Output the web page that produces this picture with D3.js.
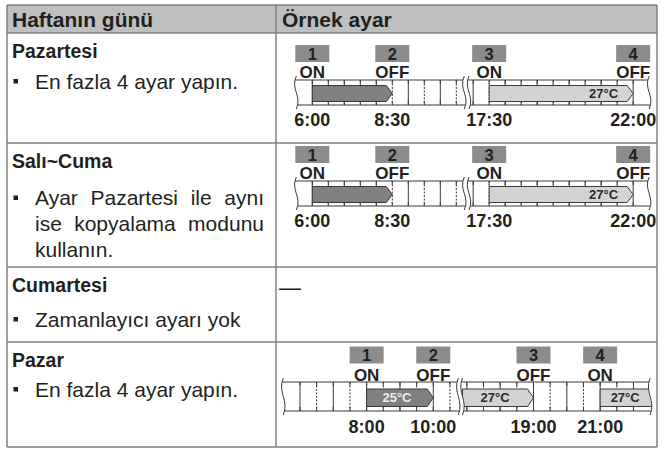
<!DOCTYPE html>
<html><head><meta charset="utf-8">
<script src="https://cdn.jsdelivr.net/npm/d3@7"></script>
<style>html,body{margin:0;padding:0;background:#fff;} svg{display:block;font-family:"Liberation Sans",Arial,Helvetica,sans-serif;}</style>
</head><body><svg id="c" width="667" height="450"></svg>
<script>
// ---------------- data ----------------
const columnHeaders = ["Haftanın günü", "Örnek ayar"];
const dayNames = ["Pazartesi", "Salı~Cuma", "Cumartesi", "Pazar"];
const dayNotes = [
  ["En fazla 4 ayar yapın."],
  ["Ayar Pazartesi ile aynı", "ise kopyalama modunu", "kullanın."],
  ["Zamanlayıcı ayarı yok"],
  ["En fazla 4 ayar yapın."]
];
const noSettingMark = "—";
const rowSchedule = ["weekday", "weekday", null, "sunday"];

// visible time windows of the timeline (hours), split by a break
const visibleWindows = [[5.5, 10.75], [16.87, 22.5]];

// weekday programme (Pazartesi, Salı~Cuma)
const weekdayNumbers = [1, 2, 3, 4];
const weekdayActions = ["ON", "OFF", "ON", "OFF"];
const weekdayTimes = ["6:00", "8:30", "17:30", "22:00"];
const weekdayBarFrom = ["6:00", "17:30"];
const weekdayBarTo = ["8:30", "22:00"];
const weekdayBarLevel = ["low", "high"];
const weekdayBarTemp = ["", "27°C"];

// Sunday programme (Pazar); null = bar continues beyond the visible window
const sundayNumbers = [1, 2, 3, 4];
const sundayActions = ["ON", "OFF", "OFF", "ON"];
const sundayTimes = ["8:00", "10:00", "19:00", "21:00"];
const sundayBarFrom = ["8:00", null, "21:00"];
const sundayBarTo = ["10:00", "19:00", null];
const sundayBarLevel = ["low", "high", "high"];
const sundayBarTemp = ["25°C", "27°C", "27°C"];

// ---------------- helpers ----------------
const toHours = s => { const [h, m] = s.split(":").map(Number); return h + m / 60; };
function buildSchedule(nums, acts, times, bFrom, bTo, bLev, bTemp) {
  return {
    events: nums.map((n, i) => ({ n, action: acts[i], t: toHours(times[i]), label: times[i] })),
    bars: bFrom.map((f, i) => ({
      from: f === null ? null : toHours(f),
      to: bTo[i] === null ? null : toHours(bTo[i]),
      level: bLev[i], temp: bTemp[i]
    }))
  };
}
const schedules = {
  weekday: buildSchedule(weekdayNumbers, weekdayActions, weekdayTimes, weekdayBarFrom, weekdayBarTo, weekdayBarLevel, weekdayBarTemp),
  sunday: buildSchedule(sundayNumbers, sundayActions, sundayTimes, sundayBarFrom, sundayBarTo, sundayBarLevel, sundayBarTemp)
};

// ---------------- styling / layout ----------------
const ink = "#231f20";
const lineInk = "#3a3a3a";
const tableLine = "#808080";
const headerFill = "#bebfc1";
const boxFill = "#8c8c8c";
const levelFill = { low: "#808080", high: "#d3d3d3" };
const levelText = { low: "#ececec", high: "#2a2a2a" };
const labelMode = { weekday: ["center", "end"], sunday: ["center", "center", "center"] };

const tableLeft = 7, tableRight = 657, colX = 276;
const rowLines = [5, 33, 143, 267, 342, 447];
const rowTextLayout = [
  { title: 57.5, notes: [88.5] },
  { title: 168, notes: [205, 231, 257] },
  { title: 291.5, notes: [326.5] },
  { title: 366.5, notes: [396.5] }
];
const timelineLayout = {
  0: { boxTop: 45, actionBase: 78, top: 80, bottom: 105, barTop: 85.5, barBottom: 101.5, labelBase: 97.5, timeBase: 125.5, x0: 296.3, xB: 469, pxh: 32 },
  1: { boxTop: 146, actionBase: 179, top: 181, bottom: 206, barTop: 186.5, barBottom: 202.5, labelBase: 198.5, timeBase: 226.5, x0: 296.3, xB: 469, pxh: 32 },
  3: { boxTop: 346.5, actionBase: 381, top: 382, bottom: 411, barTop: 389, barBottom: 406.5, labelBase: 402, timeBase: 433, x0: 283.3, xB: 462.5, pxh: 33.33 }
};

const svg = d3.select("#c");
svg.append("rect").attr("width", 667).attr("height", 450).attr("fill", "#fff");

// header background
svg.append("rect").attr("x", tableLeft).attr("y", rowLines[0])
  .attr("width", tableRight - tableLeft).attr("height", rowLines[1] - rowLines[0]).attr("fill", headerFill);

// ---------------- timelines ----------------
function sCurve(x, y0, y1) {
  const h = y1 - y0;
  return `M${x},${y0} C${x - 6},${y0 + h * 0.4} ${x + 6},${y0 + h * 0.6} ${x},${y1}`;
}
function sCurveRev(x, y0, y1) {
  const h = y1 - y0;
  return `L${x},${y1} C${x + 6},${y0 + h * 0.6} ${x - 6},${y0 + h * 0.4} ${x},${y0}`;
}

function drawTimeline(sched, key, L) {
  const g = svg.append("g");
  const [wA, wB] = visibleWindows;
  const sA = d3.scaleLinear().domain(wA).range([L.x0, L.x0 + (wA[1] - wA[0]) * L.pxh]);
  const sB = d3.scaleLinear().domain(wB).range([L.xB, L.xB + (wB[1] - wB[0]) * L.pxh]);
  const xOf = t => (t <= wA[1] ? sA(t) : sB(t));
  const xStart = sA(wA[0]), xBreak1 = sA(wA[1]), xBreak2 = sB(wB[0]), xEnd = sB(wB[1]);
  const over = 4;

  // horizontal rails
  [L.top, L.bottom].forEach(y => {
    g.append("line").attr("x1", xStart - 5).attr("x2", xEnd + 5).attr("y1", y).attr("y2", y)
      .attr("stroke", lineInk).attr("stroke-width", 1);
  });

  // grid lines every half hour
  const grid = [];
  [[sA, wA], [sB, wB]].forEach(([s, w]) => {
    for (let t = Math.ceil(w[0] * 2) / 2; t <= w[1] + 1e-6; t += 0.5) {
      const x = s(t);
      if (Math.abs(x - s(w[0])) < 3 || Math.abs(x - s(w[1])) < 3) continue;
      grid.push({ x, full: Math.abs(t - Math.round(t)) < 1e-6 });
    }
  });
  g.selectAll("line.grid").data(grid).join("line").attr("class", "grid")
    .attr("x1", d => d.x).attr("x2", d => d.x).attr("y1", L.top).attr("y2", L.bottom)
    .attr("stroke", lineInk).attr("stroke-width", 1)
    .attr("stroke-dasharray", d => (d.full ? null : "2,1.5"));
  const tickLen = 4;
  g.selectAll("line.tickT").data(grid).join("line").attr("class", "tickT")
    .attr("x1", d => d.x).attr("x2", d => d.x).attr("y1", L.top).attr("y2", L.top + tickLen)
    .attr("stroke", lineInk).attr("stroke-width", 1);
  g.selectAll("line.tickB").data(grid).join("line").attr("class", "tickB")
    .attr("x1", d => d.x).attr("x2", d => d.x).attr("y1", L.bottom - tickLen).attr("y2", L.bottom)
    .attr("stroke", lineInk).attr("stroke-width", 1);

  // bars
  const tip = 6;
  const bars = sched.bars.map((b, i) => {
    const x1 = b.from === null ? xBreak2 : xOf(b.from);
    const arrow = b.to !== null;
    const x2 = b.to === null ? xEnd + 5 : xOf(b.to);
    return { ...b, x1, x2, arrow, mode: labelMode[key][i] };
  });
  const yT = L.barTop, yB = L.barBottom, yM = (yT + yB) / 2;
  g.selectAll("path.bar").data(bars).join("path").attr("class", "bar")
    .attr("d", d => d.arrow
      ? `M${d.x1},${yT} L${d.x2 - tip},${yT} L${d.x2},${yM} L${d.x2 - tip},${yB} L${d.x1},${yB} Z`
      : `M${d.x1},${yT} L${d.x2},${yT} L${d.x2},${yB} L${d.x1},${yB} Z`)
    .attr("fill", d => levelFill[d.level]).attr("stroke", lineInk).attr("stroke-width", 1);

  // break and ends
  const y0 = L.top - over, y1 = L.bottom + over;
  g.append("path").attr("d", sCurve(xBreak1, y0, y1) + " " + sCurveRev(xBreak2, y0, y1) + " Z").attr("fill", "#fff");
  g.append("path").attr("d", sCurve(xStart, y0, y1) + ` L${xStart - 12},${y1} L${xStart - 12},${y0} Z`).attr("fill", "#fff");
  g.append("path").attr("d", sCurve(xEnd, y0, y1) + ` L${xEnd + 12},${y1} L${xEnd + 12},${y0} Z`).attr("fill", "#fff");
  [xStart, xBreak1, xBreak2, xEnd].forEach(x => {
    g.append("path").attr("d", sCurve(x, y0, y1)).attr("fill", "none").attr("stroke", lineInk).attr("stroke-width", 1);
  });

  // bar labels
  g.selectAll("text.temp").data(bars.filter(d => d.temp)).join("text").attr("class", "temp")
    .attr("x", d => {
      const bodyEnd = d.arrow ? d.x2 - tip : Math.min(d.x2, xEnd);
      return d.mode === "end" ? bodyEnd - 9 : (d.x1 + bodyEnd) / 2;
    })
    .attr("y", L.labelBase)
    .attr("text-anchor", d => (d.mode === "end" ? "end" : "middle"))
    .attr("font-size", 13).attr("font-weight", "bold")
    .attr("fill", d => levelText[d.level]).text(d => d.temp);

  // number boxes, actions, times
  const boxW = 34, boxH = 17;
  const ev = g.selectAll("g.ev").data(sched.events).join("g").attr("class", "ev");
  ev.append("rect").attr("x", d => xOf(d.t) - boxW / 2).attr("y", L.boxTop)
    .attr("width", boxW).attr("height", boxH).attr("fill", boxFill);
  ev.append("text").attr("x", d => xOf(d.t)).attr("y", L.boxTop + 14.5)
    .attr("text-anchor", "middle").attr("font-size", 16.5).attr("font-weight", "bold")
    .attr("fill", ink).text(d => d.n);
  ev.append("text").attr("x", d => xOf(d.t)).attr("y", L.actionBase)
    .attr("text-anchor", "middle").attr("font-size", 17).attr("font-weight", "bold")
    .attr("fill", ink).text(d => d.action);
  ev.append("text").attr("x", d => xOf(d.t)).attr("y", L.timeBase)
    .attr("text-anchor", "middle").attr("font-size", 18).attr("font-weight", "bold")
    .attr("fill", ink).text(d => d.label);
}

rowSchedule.forEach((key, i) => {
  if (key) drawTimeline(schedules[key], key, timelineLayout[i]);
});

// empty mark for Cumartesi
svg.append("text").attr("x", 279).attr("y", 294.5).attr("font-size", 22)
  .attr("fill", ink).text(noSettingMark);

// ---------------- left column text ----------------
svg.selectAll("text.head").data(columnHeaders).join("text").attr("class", "head")
  .attr("x", (d, i) => (i === 0 ? 12 : 282)).attr("y", 26.5)
  .attr("font-size", 21).attr("font-weight", "bold").attr("fill", ink).text(d => d);

const textLeft = 35, textRight = 264;
dayNames.forEach((name, r) => {
  const lay = rowTextLayout[r];
  svg.append("text").attr("x", 12).attr("y", lay.title).attr("font-size", 19.5)
    .attr("font-weight", "bold").attr("fill", ink).text(name);
  const lines = dayNotes[r];
  svg.append("rect").attr("x", 13.5).attr("y", lay.notes[0] - 9.5).attr("width", 4.5).attr("height", 4.5).attr("fill", ink);
  lines.forEach((ln, k) => {
    const t = svg.append("text").attr("x", textLeft).attr("y", lay.notes[k]).attr("font-size", 21)
      .attr("fill", ink).text(ln);
    const justify = lines.length > 1 && k < lines.length - 1;
    if (justify) {
      const w = t.node().getComputedTextLength();
      const gaps = ln.split(" ").length - 1;
      if (gaps > 0) t.attr("word-spacing", (textRight - textLeft - w) / gaps);
    }
  });
});

// ---------------- table lines ----------------
const tl = svg.append("g").attr("stroke", tableLine).attr("stroke-width", 1.5).attr("fill", "none");
rowLines.forEach(y => tl.append("line").attr("x1", tableLeft).attr("x2", tableRight).attr("y1", y).attr("y2", y));
[tableLeft, colX, tableRight].forEach(x => tl.append("line").attr("x1", x).attr("x2", x)
  .attr("y1", rowLines[0]).attr("y2", rowLines[rowLines.length - 1]));
</script></body></html>
